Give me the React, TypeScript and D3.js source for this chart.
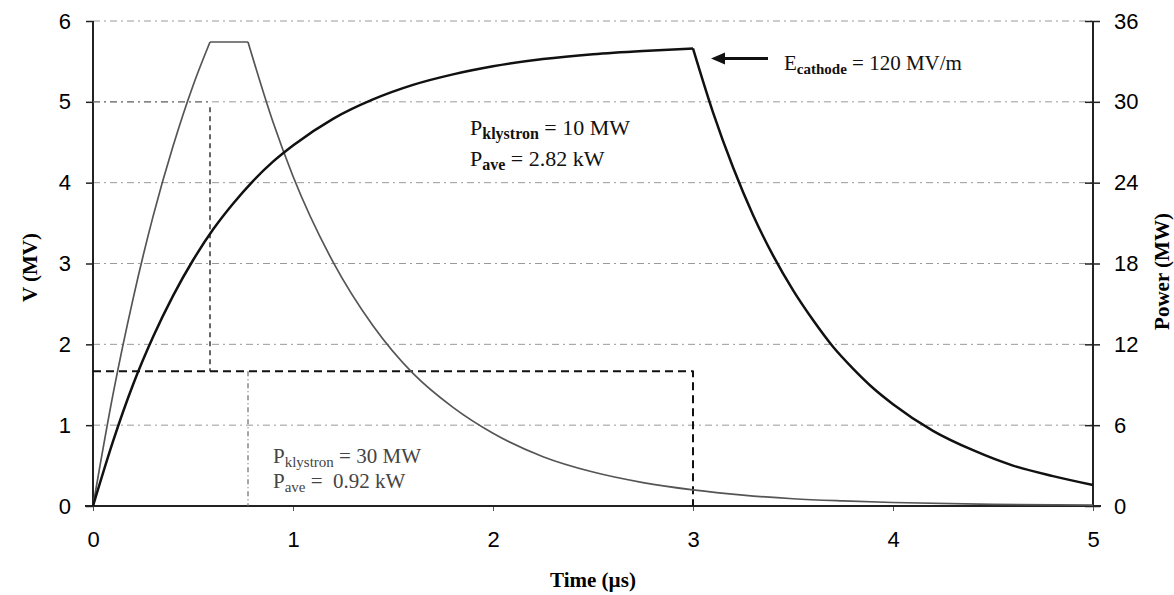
import React, { useEffect, useRef } from 'react';
import * as d3 from 'd3';

// axis ticks
const timeTicks = [0, 1, 2, 3, 4, 5];
const voltTicks = [0, 1, 2, 3, 4, 5, 6];
const powerTicks = [0, 6, 12, 18, 24, 30, 36];

// cavity voltage, 10 MW klystron, 3 us pulse  [time (us), V (MV)]
const volt10Fill: [number, number][] = [
  [0, 0], [0.1, 0.8], [0.2, 1.5], [0.3, 2.09], [0.4, 2.6], [0.5, 3.04],
  [0.6, 3.42], [0.7, 3.74], [0.8, 4.02], [0.9, 4.26], [1.0, 4.46],
  [1.2, 4.79], [1.4, 5.03], [1.6, 5.21], [1.8, 5.34], [2.0, 5.44],
  [2.25, 5.53], [2.5, 5.59], [2.75, 5.63], [3.0, 5.66],
];
const volt10Decay: [number, number][] = [
  [3.0, 5.66], [3.1, 4.87], [3.2, 4.19], [3.3, 3.6], [3.4, 3.1], [3.5, 2.67],
  [3.6, 2.3], [3.7, 1.97], [3.8, 1.7], [3.9, 1.46], [4.0, 1.26],
  [4.2, 0.93], [4.4, 0.69], [4.6, 0.5], [4.8, 0.37], [5.0, 0.26],
];

// cavity voltage, 30 MW klystron, short pulse
const volt30Fill: [number, number][] = [
  [0, 0], [0.1, 1.38], [0.2, 2.56], [0.3, 3.58], [0.4, 4.45], [0.5, 5.2],
  [0.585, 5.74],
];
const volt30Flat: [number, number][] = [[0.585, 5.74], [0.775, 5.74]];
const volt30Decay: [number, number][] = [
  [0.775, 5.74], [0.9, 4.75], [1.0, 4.08], [1.2, 3.02],
  [1.4, 2.23], [1.6, 1.64], [1.8, 1.22], [2.0, 0.9], [2.25, 0.61],
  [2.5, 0.42], [2.75, 0.29], [3.0, 0.2], [3.25, 0.135], [3.5, 0.09],
  [3.75, 0.063], [4.0, 0.043], [4.5, 0.02], [5.0, 0.01],
];

// klystron power pulses [time (us), P (MW)]
const power10MW: [number, number][] = [[0, 10], [3, 10], [3, 0]];
const power30MWTop: [number, number][] = [[0, 30], [0.585, 30]];
const power30MWDrop: [number, number][] = [[0.585, 29.6], [0.585, 10]];
const power30MWEnd: [number, number][] = [[0.775, 10], [0.775, 0]];

function App() {
  const ref = useRef<SVGSVGElement>(null);

  useEffect(() => {
    const W = 1174;
    const H = 595;
    const left = 93;
    const right = 1093;
    const top = 21;
    const bottom = 506;

    const svg = d3.select(ref.current);
    svg.selectAll('*').remove();
    svg.attr('width', W).attr('height', H);

    const x = d3.scaleLinear().domain([0, 5]).range([left, right]);
    const y = d3.scaleLinear().domain([0, 6]).range([bottom, top]);
    const yP = d3.scaleLinear().domain([0, 36]).range([bottom, top]);

    const sans = 'Liberation Sans, Arial, sans-serif';
    const serif = 'Liberation Serif, Times New Roman, serif';

    // gridlines (dash-dot)
    svg
      .append('g')
      .selectAll('line')
      .data(voltTicks.filter((d) => d > 0))
      .enter()
      .append('line')
      .attr('x1', left)
      .attr('x2', right)
      .attr('y1', (d) => y(d))
      .attr('y2', (d) => y(d))
      .style('stroke', '#9a9a9a')
      .style('stroke-width', 1)
      .style('stroke-dasharray', '7,4,2,4');

    const styleTicks = (g: any) => {
      g.select('.domain').remove();
      g.selectAll('line').style('stroke', '#222').style('stroke-width', 1.5);
      g.selectAll('text')
        .style('font-family', sans)
        .style('font-size', '22px')
        .style('fill', '#000');
    };

    // left axis
    const gl = svg
      .append('g')
      .attr('transform', `translate(${left},0)`)
      .call(d3.axisLeft(y).tickValues(voltTicks).tickSize(7).tickPadding(15).tickFormat(d3.format('d')));
    styleTicks(gl);

    // right axis
    const gr = svg
      .append('g')
      .attr('transform', `translate(${right},0)`)
      .call(d3.axisRight(yP).tickValues(powerTicks).tickSize(7).tickPadding(14).tickFormat(d3.format('d')));
    styleTicks(gr);
    gr.selectAll('line').attr('x1', -8);

    // bottom axis
    const gb = svg
      .append('g')
      .attr('transform', `translate(0,${bottom})`)
      .call(d3.axisBottom(x).tickValues(timeTicks).tickSize(5).tickPadding(20).tickFormat(d3.format('d')));
    styleTicks(gb);
    gb.selectAll('line').style('stroke', '#555').style('stroke-width', 1);

    // axis frame lines
    svg.append('line').attr('x1', left).attr('x2', left).attr('y1', top).attr('y2', bottom)
      .style('stroke', '#222').style('stroke-width', 2);
    svg.append('line').attr('x1', right).attr('x2', right).attr('y1', top).attr('y2', bottom)
      .style('stroke', '#222').style('stroke-width', 2);
    svg.append('line').attr('x1', left - 8).attr('x2', right + 8).attr('y1', bottom).attr('y2', bottom)
      .style('stroke', '#222').style('stroke-width', 2);

    const lineV = d3.line<[number, number]>().x((d) => x(d[0])).y((d) => y(d[1]))
      .curve(d3.curveMonotoneX);
    const lineP = d3.line<[number, number]>().x((d) => x(d[0])).y((d) => yP(d[1]));

    const path = (d: string | null, color: string, width: number, dash?: string) => {
      const p = svg.append('path').attr('d', d!)
        .style('fill', 'none').style('stroke', color).style('stroke-width', width)
        .style('stroke-linejoin', 'round');
      if (dash) p.style('stroke-dasharray', dash);
      return p;
    };

    // power pulses
    path(lineP(power30MWTop), '#777', 1.3, '7,4,2,4');
    path(lineP(power30MWDrop), '#555', 1.8, '5,4');
    path(lineP(power30MWEnd), '#777', 1.3, '5,3,1,3');
    path(lineP(power10MW), '#111', 2, '8,5');

    // voltage curves
    path(lineV(volt30Fill), '#555', 1.7);
    path(lineV(volt30Flat), '#555', 1.7);
    path(lineV(volt30Decay), '#555', 1.7);
    path(lineV(volt10Fill), '#111', 2.5);
    path(lineV(volt10Decay), '#111', 2.5);

    // axis titles
    svg.append('text')
      .attr('transform', `translate(37,${(top + bottom) / 2 + 4}) rotate(-90)`)
      .attr('text-anchor', 'middle')
      .style('font-family', serif).style('font-weight', 'bold').style('font-size', '21px')
      .text('V (MV)');
    svg.append('text')
      .attr('transform', `translate(1169,${(top + bottom) / 2 + 8}) rotate(-90)`)
      .attr('text-anchor', 'middle')
      .style('font-family', serif).style('font-weight', 'bold').style('font-size', '21px')
      .text('Power (MW)');
    svg.append('text')
      .attr('x', (left + right) / 2)
      .attr('y', 587)
      .attr('text-anchor', 'middle')
      .style('font-family', serif).style('font-weight', 'bold').style('font-size', '21px')
      .text('Time (\u00b5s)');

    // arrow to peak
    const peak = volt10Fill[volt10Fill.length - 1];
    const ax = x(peak[0]) + 18;
    const ay = y(peak[1]) + 10;
    svg.append('line').attr('x1', ax + 8).attr('x2', ax + 57).attr('y1', ay).attr('y2', ay)
      .style('stroke', '#111').style('stroke-width', 3);
    svg.append('path')
      .attr('d', `M${ax},${ay} L${ax + 14},${ay - 6} L${ax + 14},${ay + 6} Z`)
      .style('fill', '#111');

    const annot = (
      tx: number,
      ty: number,
      main: string,
      sub: string,
      rest: string,
      color: string,
      size: number,
      subBold: boolean,
    ) => {
      const t = svg.append('text')
        .attr('x', tx).attr('y', ty)
        .style('white-space', 'pre')
        .style('font-family', serif).style('font-size', `${size}px`).style('fill', color);
      t.append('tspan').text(main);
      t.append('tspan')
        .attr('dy', 4)
        .style('font-size', `${Math.round(size * 0.72)}px`)
        .style('font-weight', subBold ? 'bold' : 'normal')
        .text(sub);
      t.append('tspan').attr('dy', -4).text(rest);
    };

    annot(784, 70, 'E', 'cathode', ' = 120 MV/m', '#111', 21, true);
    annot(470, 135, 'P', 'klystron', ' = 10 MW', '#111', 22, true);
    annot(470, 166, 'P', 'ave', ' = 2.82 kW', '#111', 22, true);
    annot(273, 463, 'P', 'klystron', ' = 30 MW', '#444', 21, false);
    annot(273, 488, 'P', 'ave', ' =  0.92 kW', '#444', 21, false);
  }, []);

  return (
    <svg
      ref={ref}
      style={{ position: 'absolute', left: 0, top: 0, background: '#fff' }}
    />
  );
}

export default App;
